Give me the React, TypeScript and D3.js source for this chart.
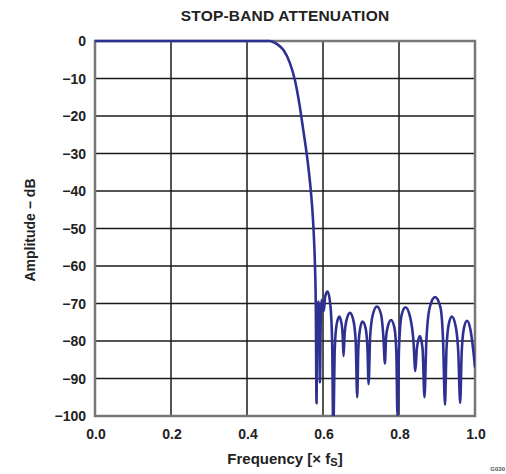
import React from "react";
import * as d3 from "d3";

const W = 506;
const H = 474;
const M = { left: 95, right: 475, top: 41, bottom: 416 };

const title = "STOP-BAND ATTENUATION";
const xTicks = [0, 0.2, 0.4, 0.6, 0.8, 1.0];
const yTicks = [0, -10, -20, -30, -40, -50, -60, -70, -80, -90, -100];

// Passband + transition band [freq (x fs), amplitude dB]
const transition: [number, number][] = [
  [0.0, 0], [0.46, 0], [0.467, -0.2], [0.48, -0.9], [0.496, -2.4], [0.513, -5.9],
  [0.526, -10.4], [0.539, -17.5], [0.548, -23.7], [0.557, -30], [0.563, -35],
  [0.568, -40], [0.572, -45], [0.575, -50], [0.578, -57], [0.5795, -62], [0.581, -70],
];

// Stop band lobes (nulls, shoulders, peaks)
const stopband: [number, number][] = [
  [0.583, -96.6], [0.585, -75], [0.588, -69.5], [0.5905, -75], [0.592, -91],
  [0.594, -75], [0.597, -69], [0.602, -72],
  [0.606, -68], [0.612, -66.8], [0.619, -70], [0.624, -80], [0.627, -104],
  [0.631, -82], [0.636, -75.5], [0.643, -73.5], [0.649, -75.5], [0.652, -79], [0.654, -84],
  [0.657, -78], [0.663, -74], [0.671, -72.5], [0.68, -74.5], [0.686, -80], [0.69, -95],
  [0.693, -82], [0.698, -76.5], [0.704, -74.8], [0.712, -76.5], [0.717, -82], [0.72, -91.5],
  [0.724, -79], [0.731, -73], [0.742, -70.8], [0.753, -73], [0.759, -79], [0.763, -86],
  [0.766, -79], [0.771, -76], [0.779, -74.4], [0.788, -76.5], [0.793, -83], [0.796, -100],
  [0.8, -82], [0.807, -73], [0.817, -71], [0.829, -73.5], [0.838, -80], [0.843, -88],
  [0.847, -82], [0.855, -78.7], [0.862, -82], [0.867, -95],
  [0.872, -80], [0.881, -71], [0.895, -68.3], [0.909, -71], [0.916, -80], [0.921, -97],
  [0.925, -82], [0.931, -75.5], [0.939, -73.5], [0.949, -76], [0.956, -83], [0.961, -96.5],
  [0.965, -83], [0.971, -76.5], [0.979, -74.6], [0.988, -77], [0.996, -83], [1.0, -87],
];

export default function App() {
  const x = d3.scaleLinear().domain([0, 1]).range([M.left, M.right]);
  const y = d3.scaleLinear().domain([-100, 0]).range([M.bottom, M.top]);
  const data = [...transition, ...stopband];
  const line = d3
    .line<[number, number]>()
    .x((d) => x(d[0]))
    .y((d) => y(d[1]))
    .curve(d3.curveMonotoneX);
  const font = "'Liberation Sans', Arial, sans-serif";
  const fmt = (v: number) => (v < 0 ? "\u2212" + Math.abs(v) : String(v));
  return (
    <svg
      width={W}
      height={H}
      style={{ position: "absolute", left: 0, top: 0, background: "#fff" }}
      fontFamily={font}
    >
      <defs>
        <clipPath id="plot">
          <rect x={M.left} y={M.top - 2} width={M.right - M.left} height={M.bottom - M.top + 2} />
        </clipPath>
      </defs>
      <text x={285} y={21} textAnchor="middle" fontWeight="bold" fontSize={15.5} letterSpacing={0.2} fill="#222">
        {title}
      </text>
      {xTicks.slice(1, -1).map((t) => (
        <line key={"gx" + t} x1={x(t)} x2={x(t)} y1={M.top} y2={M.bottom} stroke="#1a1a1a" strokeWidth={1.5} />
      ))}
      {yTicks.slice(1, -1).map((t) => (
        <line key={"gy" + t} x1={M.left} x2={M.right} y1={y(t)} y2={y(t)} stroke="#1a1a1a" strokeWidth={1.5} />
      ))}
      <rect
        x={M.left}
        y={M.top}
        width={M.right - M.left}
        height={M.bottom - M.top}
        fill="none"
        stroke="#777"
        strokeWidth={2.5}
      />
      <path d={line(data) || ""} fill="none" stroke="#2e3192" strokeWidth={2.6} clipPath="url(#plot)" strokeLinejoin="round" />
      {yTicks.map((t) => (
        <text key={"ty" + t} x={86} y={y(t) + 5} textAnchor="end" fontWeight="bold" fontSize={14} fill="#222">
          {fmt(t)}
        </text>
      ))}
      {xTicks.map((t) => (
        <text key={"tx" + t} x={x(t) + 1} y={439} textAnchor="middle" fontWeight="bold" fontSize={14} fill="#222">
          {t.toFixed(1)}
        </text>
      ))}
      <text x={285} y={464} textAnchor="middle" fontWeight="bold" fontSize={15} fill="#222">
        Frequency [× f<tspan fontSize={11} dy={2}>S</tspan>
        <tspan dy={-2}>]</tspan>
      </text>
      <text
        transform="translate(35, 230) rotate(-90)"
        textAnchor="middle"
        fontWeight="bold"
        fontSize={14}
        fill="#222"
      >
        Amplitude − dB
      </text>
      <text x={505} y={471} textAnchor="end" fontWeight="bold" fontSize={6} fill="#555">
        G030
      </text>
    </svg>
  );
}
